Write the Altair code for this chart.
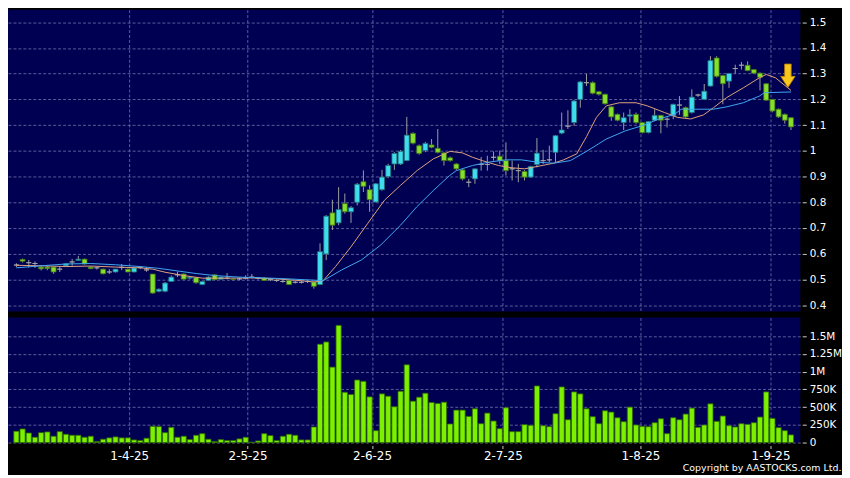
import altair as alt
import pandas as pd

# ---------------- data ----------------
opens = [0.556,0.578,0.565,0.562,0.548,0.548,0.548,0.540,0.553,0.568,
         0.574,0.579,0.548,0.545,0.540,0.529,0.529,0.547,0.540,0.529,
         0.547,0.537,0.521,0.454,0.454,0.492,0.518,0.521,0.505,0.507,
         0.480,0.496,0.518,0.501,0.505,0.501,0.502,0.505,0.509,0.505,
         0.505,0.499,0.496,0.492,0.496,0.489,0.489,0.492,0.490,0.480,
         0.599,0.759,0.720,0.795,0.763,0.800,0.880,0.849,0.801,0.849,
         0.900,0.949,0.949,0.962,1.068,1.020,1.001,1.023,1.010,0.992,
         0.973,0.949,0.926,0.878,0.891,0.947,0.947,0.975,0.979,0.962,
         0.930,0.923,0.920,0.898,0.947,0.962,0.965,0.994,1.069,1.096,
         1.110,1.200,1.265,1.265,1.230,1.220,1.171,1.142,1.110,1.135,
         1.142,1.110,1.071,1.119,1.138,1.123,1.136,1.178,1.168,1.149,
         1.217,1.200,1.252,1.361,1.293,1.271,1.320,1.333,1.333,1.316,
         1.302,1.261,1.200,1.162,1.142,1.129]
highs = [0.563,0.581,0.576,0.570,0.552,0.555,0.550,0.551,0.563,0.580,
         0.591,0.581,0.551,0.549,0.542,0.540,0.541,0.560,0.542,0.545,
         0.550,0.548,0.521,0.465,0.490,0.515,0.531,0.523,0.512,0.510,
         0.494,0.512,0.520,0.511,0.525,0.505,0.508,0.516,0.521,0.509,
         0.508,0.504,0.500,0.497,0.498,0.494,0.494,0.497,0.492,0.640,
         0.750,0.810,0.859,0.834,0.785,0.875,0.924,0.866,0.875,0.926,
         0.950,0.995,1.003,1.132,1.072,1.025,1.035,1.046,1.085,0.995,
         0.978,0.952,0.930,0.891,0.932,0.976,0.981,0.998,1.001,1.033,
         0.962,0.949,0.925,0.942,1.050,1.004,1.020,1.062,1.149,1.158,
         1.198,1.272,1.299,1.270,1.233,1.222,1.175,1.145,1.149,1.162,
         1.149,1.112,1.116,1.162,1.140,1.130,1.183,1.213,1.172,1.239,
         1.222,1.260,1.368,1.368,1.296,1.303,1.335,1.346,1.348,1.318,
         1.305,1.263,1.202,1.165,1.145,1.131]
lows = [0.548,0.566,0.546,0.545,0.535,0.536,0.522,0.529,0.550,0.553,
        0.572,0.558,0.540,0.538,0.520,0.521,0.527,0.536,0.528,0.527,
        0.540,0.530,0.444,0.450,0.450,0.490,0.509,0.500,0.500,0.484,
        0.478,0.494,0.497,0.499,0.500,0.496,0.497,0.500,0.504,0.500,
        0.494,0.494,0.490,0.487,0.478,0.484,0.484,0.486,0.464,0.478,
        0.575,0.692,0.711,0.756,0.720,0.788,0.840,0.763,0.800,0.845,
        0.895,0.926,0.945,0.960,1.025,0.985,0.995,1.010,0.990,0.943,
        0.958,0.925,0.885,0.859,0.872,0.923,0.923,0.962,0.949,0.904,
        0.885,0.878,0.885,0.895,0.936,0.949,0.956,0.956,1.065,1.085,
        1.097,1.168,1.252,1.220,1.215,1.180,1.117,1.115,1.081,1.110,
        1.105,1.068,1.068,1.115,1.068,1.091,1.123,1.140,1.128,1.145,
        1.210,1.198,1.250,1.285,1.181,1.245,1.300,1.316,1.310,1.300,
        1.235,1.195,1.150,1.128,1.106,1.081]
closes = [0.556,0.571,0.565,0.562,0.541,0.542,0.529,0.540,0.561,0.568,
          0.579,0.560,0.542,0.545,0.522,0.529,0.540,0.547,0.529,0.544,
          0.547,0.537,0.447,0.462,0.486,0.509,0.518,0.501,0.509,0.487,
          0.492,0.509,0.499,0.509,0.505,0.499,0.502,0.505,0.509,0.505,
          0.496,0.499,0.496,0.492,0.480,0.489,0.489,0.492,0.473,0.608,
          0.746,0.711,0.772,0.763,0.779,0.870,0.862,0.810,0.872,0.898,
          0.943,0.990,0.998,1.061,1.030,0.990,1.029,1.014,0.994,0.962,
          0.962,0.930,0.891,0.878,0.930,0.947,0.947,0.975,0.962,0.923,
          0.930,0.923,0.898,0.939,0.991,0.962,0.965,1.059,1.081,1.096,
          1.194,1.268,1.265,1.224,1.220,1.183,1.132,1.119,1.129,1.140,
          1.110,1.071,1.114,1.138,1.119,1.123,1.181,1.178,1.132,1.209,
          1.217,1.232,1.351,1.290,1.261,1.301,1.320,1.333,1.312,1.302,
          1.286,1.197,1.155,1.132,1.119,1.093]
volumes_k = [160,192,135,75,140,150,89,154,117,103,
             103,75,89,15,47,66,80,66,66,37,
             28,61,229,225,140,215,75,89,42,103,
             126,47,15,42,28,28,52,75,5,23,
             126,98,28,89,117,103,37,37,220,1388,
             1420,1065,1654,710,678,883,864,645,168,687,
             654,505,724,1098,584,640,696,565,551,570,
             262,458,458,369,477,266,416,304,196,491,
             154,154,252,243,799,238,224,407,785,322,
             715,687,477,365,266,449,430,350,294,500,
             248,229,224,280,336,126,350,322,402,486,
             215,248,547,299,374,238,220,266,257,280,
             360,715,341,210,168,108]

ma_fast_idx = [0, 4, 8, 12, 16, 20, 22, 24, 27, 30, 34, 38, 42, 46, 48, 49.5,
               51.5, 54, 56.7, 59.4, 62, 64.7, 67.3, 70, 72, 73.6, 75.2, 77.8,
               80, 82, 84, 86.7, 88.3, 90.4, 92, 93.6, 95.2, 97.3, 100, 101.8,
               104.6, 106.7, 108.8, 110.9, 112.5, 114.6, 117.3, 119.9, 121,
               122.5, 125]
ma_fast_val = [0.555, 0.553, 0.550, 0.552, 0.548, 0.545, 0.540, 0.528, 0.515,
               0.505, 0.505, 0.506, 0.502, 0.495, 0.490, 0.495, 0.550, 0.627,
               0.718, 0.808, 0.866, 0.924, 0.969, 0.998, 0.992, 0.975, 0.962,
               0.943, 0.934, 0.930, 0.939, 0.952, 0.965, 0.988, 1.055, 1.130,
               1.175, 1.187, 1.187, 1.175, 1.149, 1.130, 1.124, 1.140, 1.168,
               1.207, 1.245, 1.284, 1.297, 1.284, 1.235]
ma_slow_idx = [0, 4, 8, 12, 16, 20, 23, 26, 29, 32, 36, 40, 44, 48, 49.5, 52.5,
               55.7, 58.8, 62, 64.6, 67.3, 69.9, 71, 73.6, 76.2, 79, 81.5,
               84.1, 86.7, 89.4, 92, 95.2, 98.3, 100.9, 103.6, 106.2, 107.3,
               112.5, 114.6, 117.3, 119.9, 120.7, 125]
ma_slow_val = [0.545, 0.553, 0.560, 0.562, 0.557, 0.550, 0.543, 0.533, 0.523,
               0.515, 0.509, 0.506, 0.502, 0.497, 0.495, 0.537, 0.576, 0.634,
               0.711, 0.782, 0.846, 0.904, 0.923, 0.943, 0.956, 0.965, 0.965,
               0.956, 0.952, 0.962, 0.998, 1.046, 1.078, 1.097, 1.123, 1.142,
               1.162, 1.162, 1.171, 1.187, 1.213, 1.226, 1.229]

tick_pos = [18.2, 37.3, 57.4, 78.5, 100.7, 121.7]
tick_labels = ["1-4-25", "2-5-25", "2-6-25", "2-7-25", "1-8-25", "1-9-25"]
price_ticks = [0.4, 0.5, 0.6, 0.7, 0.8, 0.9, 1.0, 1.1, 1.2, 1.3, 1.4, 1.5]
vol_ticks = [0, 250000, 500000, 750000, 1000000, 1250000, 1500000]
arrow_idx = [124.5]
arrow_price = [1.292]

# ---------------- tables ----------------
n = len(opens)
df = pd.DataFrame({
    "i": list(range(n)),
    "open": opens, "high": highs, "low": lows, "close": closes,
    "vol": [v * 1000 for v in volumes_k],
})
df["dir"] = ["up" if c > o else ("down" if c < o else "flat")
             for o, c in zip(opens, closes)]
fast = pd.DataFrame({"i": ma_fast_idx, "v": ma_fast_val})
slow = pd.DataFrame({"i": ma_slow_idx, "v": ma_slow_val})
arrow = pd.DataFrame({"i": arrow_idx, "v": arrow_price})

# ---------------- styles ----------------
NAVY = "#000052"
GRID = "#6c6ca8"
CYAN = "#3fdcee"
GREEN = "#84e02c"
GRAY = "#a8a8a8"
FONT = "DejaVu Sans"

xs = alt.Scale(domain=[-0.55, 125.7], nice=False, zero=False)
ys = alt.Scale(domain=[0.3753, 1.549], nice=False, zero=False)
vs = alt.Scale(domain=[0, 1766000], nice=False, zero=True)

x_top = alt.X("i:Q", scale=xs, title=None,
              axis=alt.Axis(values=tick_pos, labels=False, ticks=False,
                            domain=False, grid=True, gridColor=GRID,
                            gridDash=[3, 2], gridOpacity=0.85))
y_axis = alt.Axis(orient="right", values=price_ticks,
                  labelExpr="format(datum.value, '~g')",
                  grid=True, gridColor=GRID, gridDash=[3, 2], gridOpacity=0.85,
                  domain=False, tickSize=4, offset=2, labelPadding=3,
                  tickColor="#cccccc", labelColor="white",
                  labelFontSize=10.5, labelFont=FONT)

dir_scale = alt.Scale(domain=["up", "down", "flat"], range=[CYAN, GREEN, GRAY])
edge_scale = alt.Scale(domain=["up", "down", "flat"],
                       range=["#1f6f78", "#3f6f14", GRAY])

wicks = alt.Chart(df).mark_rule(color="#9c9c9c", strokeWidth=1).encode(
    x=x_top,
    y=alt.Y("low:Q", scale=ys, axis=y_axis, title=None),
    y2="high:Q",
)
bodies = alt.Chart(df).mark_bar(width=5, strokeWidth=0.8).encode(
    x=x_top,
    y=alt.Y("open:Q", scale=ys, axis=y_axis, title=None),
    y2="close:Q",
    color=alt.Color("dir:N", scale=dir_scale, legend=None),
    stroke=alt.Stroke("dir:N", scale=edge_scale, legend=None),
)
fast_line = alt.Chart(fast).mark_line(color="#e0a27c", strokeWidth=1).encode(
    x=x_top, y=alt.Y("v:Q", scale=ys, axis=y_axis, title=None))
slow_line = alt.Chart(slow).mark_line(color="#3fa6f0", strokeWidth=1).encode(
    x=x_top, y=alt.Y("v:Q", scale=ys, axis=y_axis, title=None))
ARROW = "M-0.28,-1 L0.28,-1 L0.28,0.05 L0.62,0.05 L0,1 L-0.62,0.05 L-0.28,0.05 Z"
arrow_mark = alt.Chart(arrow).mark_point(
    shape=ARROW, filled=True, fill="#f8c81c", stroke="#b57a00",
    strokeWidth=0.8, size=560, opacity=1).encode(
    x=x_top, y=alt.Y("v:Q", scale=ys, axis=y_axis, title=None))

top = alt.layer(wicks, bodies, fast_line, slow_line, arrow_mark).properties(
    width=798, height=304)

label_expr = ""
for p, lab in zip(tick_pos, tick_labels):
    label_expr += f"abs(datum.value - {p}) < 0.01 ? '{lab}' : "
label_expr += "''"

x_bot = alt.X("i:Q", scale=xs, title=None,
              axis=alt.Axis(values=tick_pos, labelExpr=label_expr,
                            grid=True, gridColor=GRID, gridDash=[3, 2],
                            gridOpacity=0.85, domain=False, ticks=True,
                            tickSize=3, offset=3, tickColor="#cccccc",
                            labelColor="white", labelFontSize=12,
                            labelFont=FONT, labelPadding=2))
vol_axis = alt.Axis(orient="right", values=vol_ticks,
                    labelExpr="datum.value == 0 ? '0' : datum.value >= 1000000 ? format(datum.value / 1000000, '~g') + 'M' : format(datum.value / 1000, '~g') + 'K'",
                    grid=True, gridColor=GRID, gridDash=[3, 2], gridOpacity=0.85,
                    domain=False, tickSize=4, offset=2, labelPadding=3,
                    tickColor="#cccccc", labelColor="white",
                    labelFontSize=10.5, labelFont=FONT)

bottom = alt.Chart(df).mark_bar(
    width=5.2, color="#7cf000", stroke="#2f6a00", strokeWidth=0.8).encode(
    x=x_bot,
    y=alt.Y("vol:Q", scale=vs, axis=vol_axis, title=None),
).properties(width=798, height=126)

chart = alt.vconcat(top, bottom, spacing=6).properties(
    background="black",
    padding=0,
    title=alt.TitleParams("Copyright by AASTOCKS.com Ltd.", orient="bottom",
                          anchor="end", color="white", fontSize=9.5,
                          font=FONT, fontWeight="normal", offset=2),
).configure_view(fill=NAVY, strokeWidth=0)

chart.save("out.html", embed_options={"renderer": "svg", "actions": False})
